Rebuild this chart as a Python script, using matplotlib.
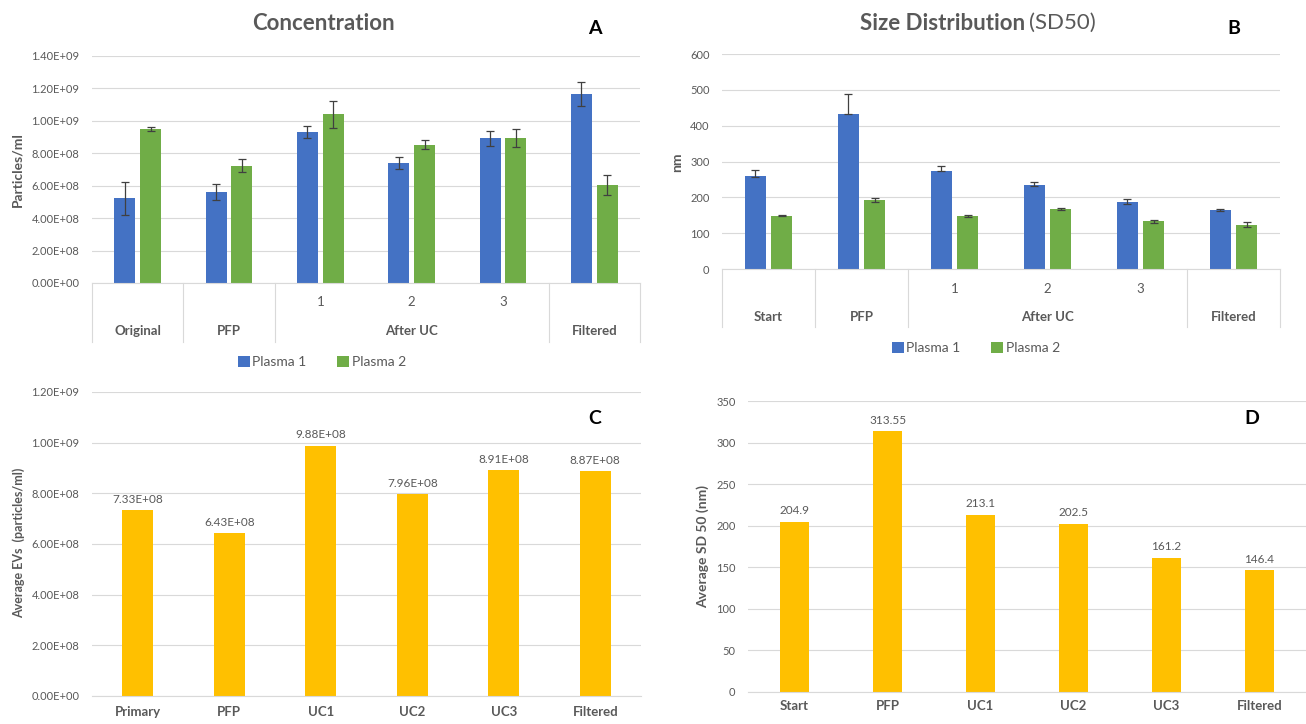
import matplotlib
matplotlib.use("Agg")
import matplotlib.pyplot as plt
from matplotlib.transforms import blended_transform_factory
from matplotlib.ticker import FuncFormatter
import numpy as np

plt.rcParams['font.family'] = ['Lato', 'DejaVu Sans']

# ---- A: concentration per plasma sample ----
groups_a = ["Original", "PFP", "After UC", "Filtered"]
group_sizes = [1, 1, 3, 1]
steps_a = ["", "", "1", "2", "3", ""]
conc_p1 = [5.22e8, 5.63e8, 9.33e8, 7.38e8, 8.92e8, 1.165e9]
conc_p1_err = [1.0e8, 0.49e8, 0.36e8, 0.38e8, 0.45e8, 0.72e8]
conc_p2 = [9.48e8, 7.24e8, 1.04e9, 8.53e8, 8.92e8, 6.02e8]
conc_p2_err = [0.12e8, 0.40e8, 0.84e8, 0.27e8, 0.55e8, 0.62e8]

# ---- B: SD50 size per plasma sample ----
groups_b = ["Start", "PFP", "After UC", "Filtered"]
size_p1 = [259, 433, 274, 234, 188, 164]
size_p1_err_lo = [1, 1, 1, 1, 6.5, 3]
size_p1_err_hi = [16, 54, 12.5, 8.5, 8.5, 3]
size_p2 = [149, 193, 148, 167, 133, 124]
size_p2_err = [2, 6, 4, 3.5, 5, 6]

# ---- C / D: averages ----
steps_c = ["Primary", "PFP", "UC1", "UC2", "UC3", "Filtered"]
avg_conc = [7.33e8, 6.43e8, 9.88e8, 7.96e8, 8.91e8, 8.87e8]
steps_d = ["Start", "PFP", "UC1", "UC2", "UC3", "Filtered"]
avg_sd50 = [204.9, 313.55, 213.1, 202.5, 161.2, 146.4]

series_names = ["Plasma 1", "Plasma 2"]

BLUE = "#4472C4"
GREEN = "#70AD47"
GOLD = "#FFC000"
TXT = "#595959"
GRID = "#D9D9D9"
ERR = "#404040"

W, H = 1306, 724
fig = plt.figure(figsize=(W / 100, H / 100), dpi=100)


def px_axes(left, top, right, bottom):
    return fig.add_axes([left / W, 1 - bottom / H, (right - left) / W, (bottom - top) / H])


def style_axes(ax, ylim, yticks, fmt):
    ax.set_ylim(*ylim)
    ax.set_yticks(yticks)
    ax.yaxis.set_major_formatter(FuncFormatter(fmt))
    ax.yaxis.grid(True, color=GRID, lw=0.8)
    ax.set_axisbelow(True)
    for s in ("top", "right", "left"):
        ax.spines[s].set_visible(False)
    ax.spines["bottom"].set_color(GRID)
    ax.spines["bottom"].set_linewidth(0.8)
    ax.tick_params(axis="y", length=0, pad=9, labelsize=8, labelcolor=TXT)
    ax.tick_params(axis="x", length=0)


def grouped_panel(ax, p1, p1err, p2, p2err, groups, row1_y, row2_y, table_y):
    x = np.arange(len(p1))
    w, off = 0.23, 0.142
    b1 = ax.bar(x - off, p1, w, color=BLUE, zorder=2, label=series_names[0])
    b2 = ax.bar(x + off, p2, w, color=GREEN, zorder=2, label=series_names[1])
    ekw = dict(fmt="none", ecolor=ERR, elinewidth=0.9, capsize=2.6, capthick=0.9, zorder=3)
    ax.errorbar(x - off, p1, yerr=p1err, **ekw)
    ax.errorbar(x + off, p2, yerr=p2err, **ekw)
    ax.set_xlim(-0.5, len(p1) - 0.5)
    ax.set_xticks([])
    trans = blended_transform_factory(ax.transData, ax.transAxes)
    edges = np.concatenate([[0], np.cumsum(group_sizes)]) - 0.5
    for e in edges:
        ax.plot([e, e], [0, table_y], transform=trans, color=GRID, lw=0.8, clip_on=False)
    for i, s in enumerate(steps_a):
        if s:
            ax.text(i, row1_y, s, transform=trans, ha="center", va="center",
                    fontsize=9.5, color=TXT)
    for g, a, b in zip(groups, edges[:-1], edges[1:]):
        ax.text((a + b) / 2, row2_y, g, transform=trans, ha="center", va="center",
                fontsize=9.5, fontweight="bold", color=TXT)
    return b1, b2


sci = lambda v, _: f"{v:.2E}"
plain = lambda v, _: f"{v:.0f}"

# Panel A
axA = px_axes(92, 56, 640, 283)
style_axes(axA, (0, 1.4e9), np.arange(0, 1.41e9, 2e8), sci)
hA = grouped_panel(axA, conc_p1, conc_p1_err, conc_p2, conc_p2_err, groups_a,
                   -0.084, -0.212, -0.26)
fig.text(323 / W, 1 - 24 / H, "Concentration", ha="center", va="center",
         fontsize=16, fontweight="bold", color=TXT)
fig.text(17 / W, 1 - 170 / H, "Particles/ml", rotation=90, ha="center", va="center",
         fontsize=10, fontweight="bold", color=TXT)
fig.legend(hA, series_names, loc="center", bbox_to_anchor=(322 / W, 1 - 362 / H),
           ncol=2, frameon=False, fontsize=10, labelcolor=TXT, handlelength=0.85,
           handleheight=0.85, handletextpad=0.2, columnspacing=2.2)

# Panel B
axB = px_axes(722, 54, 1280, 269)
style_axes(axB, (0, 600), np.arange(0, 601, 100), plain)
hB = grouped_panel(axB, size_p1, [size_p1_err_lo, size_p1_err_hi], size_p2, size_p2_err,
                   groups_b, -0.093, -0.223, -0.27)
fig.text(1025 / W, 1 - 23 / H, "Size Distribution", ha="right", va="center",
         fontsize=16, fontweight="bold", color=TXT)
fig.text(1029 / W, 1 - 23 / H, "(SD50)", ha="left", va="center",
         fontsize=16, color=TXT)
fig.text(677 / W, 1 - 162 / H, "nm", rotation=90, ha="center", va="center",
         fontsize=10, fontweight="bold", color=TXT)
fig.legend(hB, series_names, loc="center", bbox_to_anchor=(976 / W, 1 - 348 / H),
           ncol=2, frameon=False, fontsize=10, labelcolor=TXT, handlelength=0.85,
           handleheight=0.85, handletextpad=0.2, columnspacing=2.2)

# Panel C
axC = px_axes(92, 392, 641, 696)
style_axes(axC, (0, 1.2e9), np.arange(0, 1.21e9, 2e8), sci)
bc = axC.bar(np.arange(len(avg_conc)), avg_conc, 0.34, color=GOLD, zorder=2)
axC.bar_label(bc, labels=[f"{v:.2E}" for v in avg_conc], padding=4, fontsize=8.5, color=TXT)
axC.set_xlim(-0.5, len(avg_conc) - 0.5)
axC.set_xticks(np.arange(len(avg_conc)))
axC.set_xticklabels(steps_c, fontsize=9.5, fontweight="bold", color=TXT)
axC.tick_params(axis="x", pad=7)
fig.text(19 / W, 1 - 543 / H, "Average EVs  (particles/ml)", rotation=90, ha="center",
         va="center", fontsize=9, fontweight="bold", color=TXT)

# Panel D
axD = px_axes(748, 401, 1306, 692)
style_axes(axD, (0, 350), np.arange(0, 351, 50), plain)
bd = axD.bar(np.arange(len(avg_sd50)), avg_sd50, 0.32, color=GOLD, zorder=2)
axD.bar_label(bd, labels=[f"{v:g}" for v in avg_sd50], padding=4, fontsize=8.5, color=TXT)
axD.set_xlim(-0.5, len(avg_sd50) - 0.5)
axD.set_xticks(np.arange(len(avg_sd50)))
axD.set_xticklabels(steps_d, fontsize=9.5, fontweight="bold", color=TXT)
axD.tick_params(axis="x", pad=6)
fig.text(703 / W, 1 - 547 / H, "Average SD 50 (nm)", rotation=90, ha="center",
         va="center", fontsize=10, fontweight="bold", color=TXT)

# Panel letters
for letter, (px, py) in zip("ABCD", [(595, 28), (1234, 28), (595, 418), (1252, 418)]):
    fig.text(px / W, 1 - py / H, letter, ha="center", va="center", fontsize=14,
             fontweight="bold", color="black")

fig.savefig("out.png", dpi=100, facecolor="white")
